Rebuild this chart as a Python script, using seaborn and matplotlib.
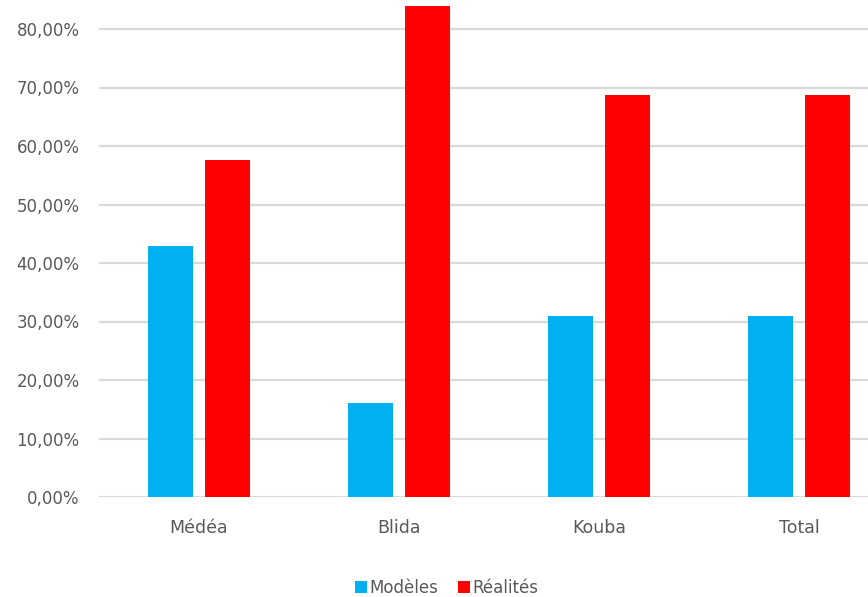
import matplotlib
matplotlib.use("Agg")
import matplotlib.pyplot as plt
import seaborn as sns
import pandas as pd
from matplotlib.ticker import FuncFormatter
from matplotlib.patches import Patch

categories = ["Médéa", "Blida", "Kouba", "Total"]
modeles = [0.429, 0.161, 0.309, 0.309]
realites = [0.576, 0.839, 0.687, 0.687]
series_names = ["Modèles", "Réalités"]
colors = ["#00B0F0", "#FF0000"]
y_ticks = [0, 0.1, 0.2, 0.3, 0.4, 0.5, 0.6, 0.7, 0.8]

df = pd.DataFrame({
    "cat": categories * 2,
    "val": modeles + realites,
    "serie": [series_names[0]] * 4 + [series_names[1]] * 4,
})

sns.set_theme(style="white")
plt.rcParams["font.family"] = ["DejaVu Sans"]

fig = plt.figure(figsize=(8.68, 5.97), dpi=100)
ax = fig.add_axes([99 / 868, 100 / 597, 769 / 868, 497.25 / 597])

sns.barplot(data=df, x="cat", y="val", hue="serie", palette=colors,
            width=0.57, gap=0.21, ax=ax, legend=False, saturation=1, linewidth=0)

ax.set_xlim(-0.5, 3.345)
ax.set_ylim(0, 0.85)
ax.set_yticks(y_ticks)
ax.yaxis.set_major_formatter(FuncFormatter(lambda v, p: f"{v*100:.2f}%".replace(".", ",")))
ax.grid(axis="y", color="#D9D9D9", linewidth=1.6)
ax.set_axisbelow(True)
for s in ax.spines.values():
    s.set_visible(False)
ax.tick_params(axis="y", length=0, pad=14, labelsize=12, labelcolor="#595959")
ax.tick_params(axis="x", length=0, pad=16, labelsize=12.5, labelcolor="#595959")
ax.set_xlabel("")
ax.set_ylabel("")

handles = [Patch(facecolor=c, edgecolor="none") for c in colors]
fig.legend(handles, series_names, loc="center", bbox_to_anchor=(447 / 868, 1 - 588 / 597),
           ncol=2, frameon=False, handlelength=0.7, handleheight=0.7, handletextpad=0.15,
           columnspacing=1.2, fontsize=12, labelcolor="#595959")

fig.savefig("out.png", dpi=100)
